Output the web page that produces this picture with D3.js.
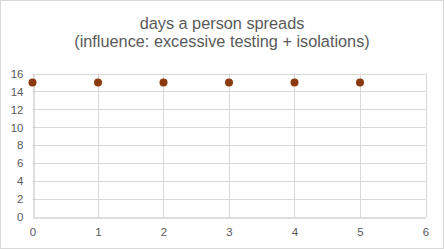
<!DOCTYPE html>
<html><head><meta charset="utf-8">
<script src="https://cdn.jsdelivr.net/npm/d3@7"></script>
<style>body{margin:0;background:#fff}svg{display:block}text{font-family:"Liberation Sans",Arial,sans-serif;fill:#595959}</style>
</head><body>
<script>
const titleLines = ["days a person spreads", "(influence: excessive testing + isolations)"];
const xValues = [0, 1, 2, 3, 4, 5];
const yValues = [15, 15, 15, 15, 15, 15];
const xTicks = [0, 1, 2, 3, 4, 5, 6];
const yTicks = [0, 2, 4, 6, 8, 10, 12, 14, 16];

const W = 444, H = 249;
const svg = d3.select("body").append("svg").attr("width", W).attr("height", H);
svg.append("rect").attr("x", 0.5).attr("y", 0.5).attr("width", W - 1).attr("height", H - 1)
  .attr("fill", "#fff").attr("stroke", "#d9d9d9");

const x = d3.scaleLinear().domain([0, 6]).range([32.5, 425.5]);
const y = d3.scaleLinear().domain([0, 16]).range([217, 73.5]);

const t = svg.append("g");
titleLines.forEach((l, i) => t.append("text").attr("x", W / 2).attr("y", 29 + i * 17.5)
  .attr("text-anchor", "middle").style("font-size", "16.3px").text(l));

// gridlines
svg.append("g").selectAll("line").data(yTicks.filter(d => d > 0)).join("line")
  .attr("x1", x(0)).attr("x2", x(6)).attr("y1", d => Math.round(y(d)) + 0.5).attr("y2", d => Math.round(y(d)) + 0.5)
  .attr("stroke", "#d9d9d9");
svg.append("g").selectAll("line").data(xTicks.filter(d => d > 0)).join("line")
  .attr("y1", y(0)).attr("y2", y(16)).attr("x1", d => Math.round(x(d)) + 0.5).attr("x2", d => Math.round(x(d)) + 0.5)
  .attr("stroke", "#d9d9d9");

const yAxis = svg.append("g").attr("transform", `translate(${Math.round(x(0)) + 0.5},0)`)
  .call(d3.axisLeft(y).tickValues(yTicks).tickFormat(d3.format("d")).tickSize(0).tickPadding(10));
const xAxis = svg.append("g").attr("transform", `translate(0,${Math.round(y(0)) + 0.5})`)
  .call(d3.axisBottom(x).tickValues(xTicks).tickFormat(d3.format("d")).tickSize(0).tickPadding(10));
[yAxis, xAxis].forEach(a => {
  a.select(".domain").attr("stroke", "#bfbfbf");
  a.selectAll("text").style("font-size", "11.5px").style("font-family", "'Liberation Sans',Arial,sans-serif").attr("fill", "#595959");
});

svg.append("g").selectAll("circle").data(xValues).join("circle")
  .attr("cx", (d) => x(d)).attr("cy", (d, i) => y(yValues[i])).attr("r", 4)
  .attr("fill", "#8a3a0e");
</script>
</body></html>
